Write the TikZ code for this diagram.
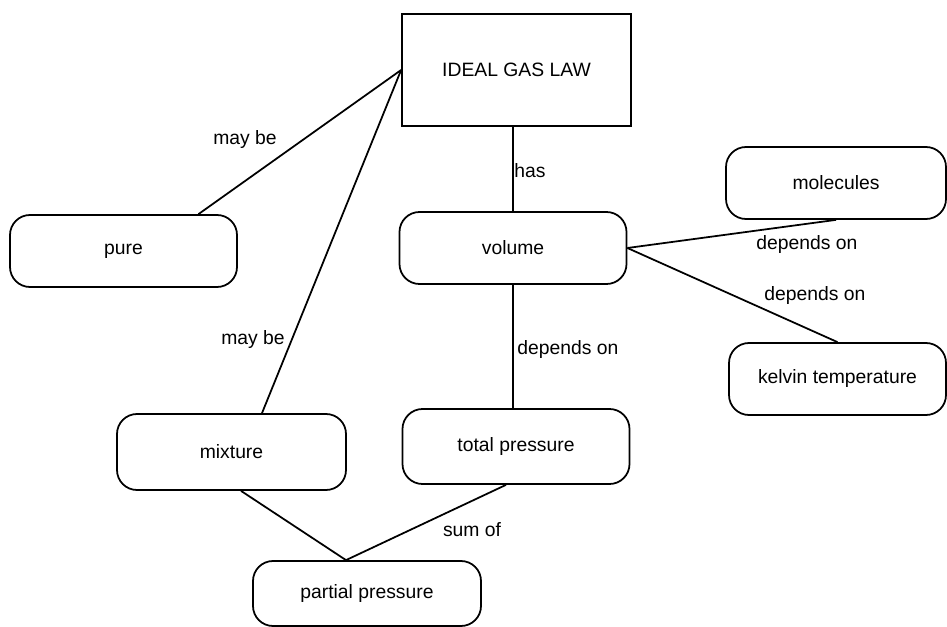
\documentclass[tikz,border=0pt]{standalone}
\usepackage{fontspec}
\setmainfont{Liberation Sans}
\usepackage{tikz}
\usetikzlibrary{positioning}
\tikzset{concept/.style = {draw, rounded corners = 0.4cm, line width = 1pt,
                           minimum width = 4.54cm, minimum height = 1.44cm,
                           inner sep = 0, font = \fontsize{11}{13}\selectfont}}
\tikzset{lawbox/.style = {draw, line width = 1pt, minimum width = 4.58cm,
                          minimum height = 2.24cm, inner sep = 0,
                          font = \fontsize{11}{13}\selectfont}}
\tikzset{link/.style = {line width = 1pt}}
\tikzset{lbl/.style = {inner sep = 1pt, font = \fontsize{11}{13}\selectfont}}

\begin{document}
\begin{tikzpicture}
      \useasboundingbox (0, 0) rectangle (18.94, -12.54);
      \node [lawbox] (law) at (10.33, -1.40) {IDEAL GAS LAW};
      \node [concept] (pure) at (2.47, -5.02) {pure};
      \node [concept] (volume) at (10.26, -4.96) {volume};
      \node [concept, minimum width = 4.40cm] (molecules) at (16.72, -3.66) {molecules};
      \node [concept, minimum width = 4.34cm] (kelvin) at (16.75, -7.58) {kelvin temperature};
      \node [concept, minimum width = 4.58cm, minimum height = 1.52cm] (mixture) at (4.63, -9.04) {mixture};
      \node [concept, minimum height = 1.50cm] (total) at (10.32, -8.93) {total pressure};
      \node [concept, minimum width = 4.56cm, minimum height = 1.30cm] (partial) at (7.34, -11.87) {partial pressure};
      \draw [link] (law.west) -- ([xshift = 1.5cm]pure.north);
      \draw [link] (law.west) -- ([xshift = 0.61cm]mixture.north);
      \draw [link] (volume.north) -- (volume.north |- law.south);
      \draw [link] (volume.east) -- (molecules.south);
      \draw [link] (volume.east) -- (kelvin.north);
      \draw [line width = 0.7pt] (volume.south) -- (volume.south |- total.north);
      \draw [link] ([xshift = 0.19cm]mixture.south) -- ([xshift = -0.42cm]partial.north);
      \draw [link] ([xshift = -0.2cm]total.south) -- ([xshift = -0.42cm]partial.north);
      \node [lbl] (maybe1) at (4.90, -2.80) {may be};
      \node [lbl] (maybe2) at (5.06, -6.80) {may be};
      \node [lbl] (has) at (10.60, -3.42) {has};
      \node [lbl] (dep1) at (16.14, -4.90) {depends on};
      \node [lbl] (dep2) at (16.30, -5.92) {depends on};
      \node [lbl] (dep3) at (11.36, -7.00) {depends on};
      \node [lbl] (sumof) at (9.44, -10.60) {sum of};
    \end{tikzpicture}
\end{document}
